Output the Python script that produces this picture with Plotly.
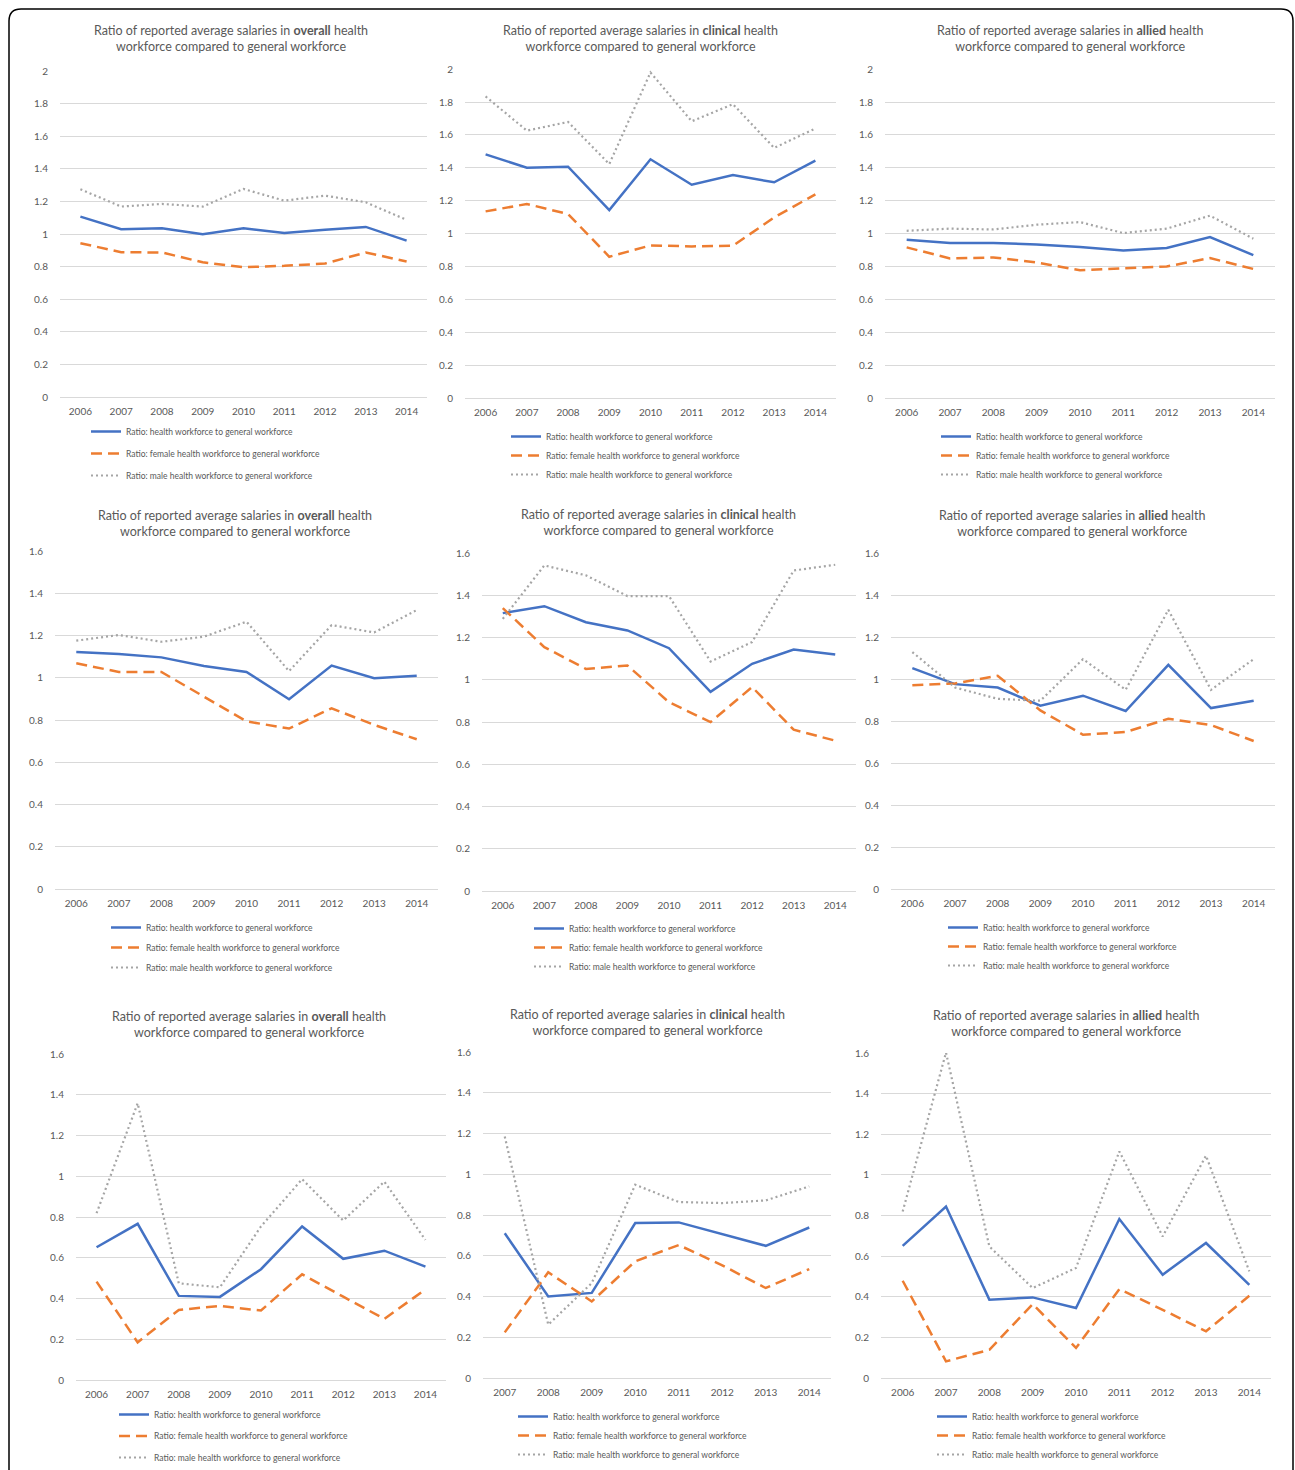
import plotly.graph_objects as go

W, H = 1295, 1470

# ---------------- data ----------------
years = ["2006", "2007", "2008", "2009", "2010", "2011", "2012", "2013", "2014"]
years_from_2007 = ["2007", "2008", "2009", "2010", "2011", "2012", "2013", "2014"]

series_names = [
    "Ratio: health workforce to general workforce",
    "Ratio: female health workforce to general workforce",
    "Ratio: male health workforce to general workforce",
]

# Row 1
r1_overall_all = [1.107, 1.030, 1.036, 0.999, 1.036, 1.007, 1.026, 1.044, 0.960]
r1_overall_female = [0.944, 0.889, 0.887, 0.827, 0.797, 0.805, 0.819, 0.887, 0.832]
r1_overall_male = [1.275, 1.169, 1.185, 1.169, 1.277, 1.205, 1.236, 1.195, 1.087]

r1_clinical_all = [1.482, 1.401, 1.407, 1.143, 1.452, 1.297, 1.356, 1.312, 1.444]
r1_clinical_female = [1.135, 1.180, 1.119, 0.859, 0.928, 0.922, 0.926, 1.098, 1.239]
r1_clinical_male = [1.834, 1.626, 1.679, 1.423, 1.980, 1.683, 1.787, 1.521, 1.639]

r1_allied_all = [0.962, 0.942, 0.942, 0.934, 0.918, 0.897, 0.912, 0.979, 0.869]
r1_allied_female = [0.916, 0.849, 0.855, 0.824, 0.777, 0.788, 0.800, 0.851, 0.785]
r1_allied_male = [1.017, 1.030, 1.025, 1.054, 1.070, 1.003, 1.030, 1.109, 0.969]

# Row 2
r2_overall_all = [1.122, 1.113, 1.097, 1.056, 1.028, 0.899, 1.058, 0.998, 1.010]
r2_overall_female = [1.069, 1.028, 1.028, 0.911, 0.794, 0.760, 0.856, 0.777, 0.709]
r2_overall_male = [1.176, 1.203, 1.171, 1.195, 1.266, 1.032, 1.250, 1.215, 1.321]

r2_clinical_all = [1.316, 1.349, 1.273, 1.234, 1.150, 0.943, 1.076, 1.144, 1.120]
r2_clinical_female = [1.340, 1.155, 1.052, 1.068, 0.894, 0.800, 0.966, 0.764, 0.712]
r2_clinical_male = [1.289, 1.542, 1.495, 1.397, 1.397, 1.087, 1.179, 1.518, 1.545]

r2_allied_all = [1.052, 0.976, 0.960, 0.873, 0.921, 0.848, 1.068, 0.862, 0.897]
r2_allied_female = [0.971, 0.979, 1.016, 0.851, 0.735, 0.748, 0.811, 0.781, 0.705]
r2_allied_male = [1.129, 0.960, 0.906, 0.897, 1.095, 0.949, 1.330, 0.949, 1.095]

# Row 3
r3_overall_all = [0.652, 0.767, 0.413, 0.408, 0.544, 0.754, 0.595, 0.635, 0.557]
r3_overall_female = [0.483, 0.185, 0.344, 0.364, 0.341, 0.519, 0.409, 0.300, 0.445]
r3_overall_male = [0.819, 1.359, 0.475, 0.455, 0.754, 0.986, 0.783, 0.974, 0.688]

r3_clinical_all = [0.711, 0.400, 0.418, 0.761, 0.764, 0.708, 0.649, 0.739]
r3_clinical_female = [0.224, 0.519, 0.376, 0.573, 0.653, 0.553, 0.442, 0.535]
r3_clinical_male = [1.186, 0.262, 0.466, 0.949, 0.864, 0.859, 0.872, 0.941]

r3_allied_all = [0.651, 0.845, 0.386, 0.397, 0.345, 0.783, 0.509, 0.665, 0.459]
r3_allied_female = [0.479, 0.082, 0.139, 0.364, 0.148, 0.438, 0.336, 0.230, 0.405]
r3_allied_male = [0.820, 1.603, 0.648, 0.443, 0.542, 1.116, 0.697, 1.095, 0.525]

panel_data = [
    (years, r1_overall_all, r1_overall_female, r1_overall_male, "overall", 2.0),
    (years, r1_clinical_all, r1_clinical_female, r1_clinical_male, "clinical", 2.0),
    (years, r1_allied_all, r1_allied_female, r1_allied_male, "allied", 2.0),
    (years, r2_overall_all, r2_overall_female, r2_overall_male, "overall", 1.6),
    (years, r2_clinical_all, r2_clinical_female, r2_clinical_male, "clinical", 1.6),
    (years, r2_allied_all, r2_allied_female, r2_allied_male, "allied", 1.6),
    (years, r3_overall_all, r3_overall_female, r3_overall_male, "overall", 1.6),
    (years_from_2007, r3_clinical_all, r3_clinical_female, r3_clinical_male, "clinical", 1.6),
    (years, r3_allied_all, r3_allied_female, r3_allied_male, "allied", 1.6),
]

# ---------------- layout geometry (pixels) ----------------
geom = [
    dict(x=(60, 427), y=(71, 397), t=(231, 38.5), leg=(90, 431, 3)),
    dict(x=(465, 836), y=(69, 398), t=(640, 38.5), leg=(510, 436, 0)),
    dict(x=(885, 1275), y=(69, 398), t=(1070, 38.5), leg=(940, 436, 0)),
    dict(x=(55, 438), y=(551, 889), t=(235, 523.5), leg=(110, 927, 1)),
    dict(x=(482, 856), y=(553, 891), t=(658, 522), leg=(533, 928, 0)),
    dict(x=(891, 1275), y=(553, 889), t=(1072, 523.5), leg=(947, 927, 0)),
    dict(x=(76, 446), y=(1054, 1380), t=(249, 1024.5), leg=(118, 1414, 2.5)),
    dict(x=(483, 831), y=(1052, 1378), t=(647, 1022.5), leg=(517, 1416, 0)),
    dict(x=(881, 1271), y=(1053, 1378), t=(1066, 1023.5), leg=(936, 1416, 0)),
]

FONT = "Lato"
TXT = "#595959"
GRID = "#D9D9D9"
styles = [
    dict(color="#4472C4", width=2.5, dash="solid"),
    dict(color="#ED7D31", width=2.5, dash="11px,6px"),
    dict(color="#A5A5A5", width=2.2, dash="2px,3px"),
]


def fx(px):
    return px / W


def fy(px):
    return 1 - px / H


fig = go.Figure()
layout = dict(
    width=W, height=H, margin=dict(l=0, r=0, t=0, b=0, autoexpand=False),
    paper_bgcolor="white", plot_bgcolor="white",
    font=dict(family=FONT, color=TXT),
    annotations=[], shapes=[],
)

for i, ((cats, a, f, m, kind, ymax), g) in enumerate(zip(panel_data, geom)):
    n = i + 1
    sfx = "" if n == 1 else str(n)
    legname = "legend" + sfx
    for j, (vals, name) in enumerate(zip([a, f, m], series_names)):
        fig.add_trace(go.Scatter(
            x=cats, y=vals, name=name, mode="lines",
            line=dict(color=styles[j]["color"], width=styles[j]["width"], dash=styles[j]["dash"]),
            xaxis="x" + sfx, yaxis="y" + sfx, legend=legname,
            legendgroup=f"p{n}s{j}", showlegend=True,
        ))
    layout["xaxis" + sfx] = dict(
        domain=[fx(g["x"][0]), fx(g["x"][1])], anchor="y" + sfx,
        type="category", range=[-0.5, len(cats) - 0.5],
        showgrid=False, showline=False, zeroline=False,
        ticks="outside", ticklen=5, tickcolor="rgba(0,0,0,0)",
        tickfont=dict(size=10, color=TXT, family=FONT),
        fixedrange=True, automargin=False,
    )
    layout["yaxis" + sfx] = dict(
        domain=[fy(g["y"][1]), fy(g["y"][0])], anchor="x" + sfx,
        range=[0, ymax * 1.0005], dtick=0.2, tick0=0,
        showgrid=True, gridcolor=GRID, gridwidth=1,
        zeroline=True, zerolinecolor=GRID, zerolinewidth=1,
        showline=False,
        ticks="outside", ticklen=9, tickcolor="rgba(0,0,0,0)",
        tickfont=dict(size=10, color=TXT, family=FONT),
        fixedrange=True, automargin=False,
    )
    sx, ry, gap = g["leg"]
    layout[legname] = dict(
        x=fx(sx - 4), y=fy(ry - 14), xanchor="left", yanchor="top",
        orientation="v", bgcolor="rgba(0,0,0,0)", borderwidth=0,
        font=dict(size=8.5, color=TXT, family=FONT),
        traceorder="grouped", tracegroupgap=gap, itemwidth=30,
    )
    layout["annotations"].append(dict(
        text=f"Ratio of reported average salaries in <b>{kind}</b> health<br>workforce compared to general workforce",
        x=fx(g["t"][0]), y=fy(g["t"][1]), xref="paper", yref="paper",
        xanchor="center", yanchor="middle", showarrow=False, align="center",
        font=dict(size=12.5, color=TXT, family=FONT),
    ))

# outer rounded border of the figure panel
x0, x1, y0, yb, r = 9, 1293, 9, 1480, 12
path = (
    f"M {fx(x0)},{fy(yb)} L {fx(x0)},{fy(y0 + r)} "
    f"Q {fx(x0)},{fy(y0)} {fx(x0 + r)},{fy(y0)} "
    f"L {fx(x1 - r)},{fy(y0)} Q {fx(x1)},{fy(y0)} {fx(x1)},{fy(y0 + r)} "
    f"L {fx(x1)},{fy(yb)}"
)
layout["shapes"].append(dict(type="path", xref="paper", yref="paper", path=path,
                             line=dict(color="black", width=1.5)))

fig.update_layout(**layout)
fig.write_html(
    "out.html",
    config=dict(displayModeBar=False),
    post_script="document.body.style.margin='0';document.body.style.overflow='hidden';",
)
